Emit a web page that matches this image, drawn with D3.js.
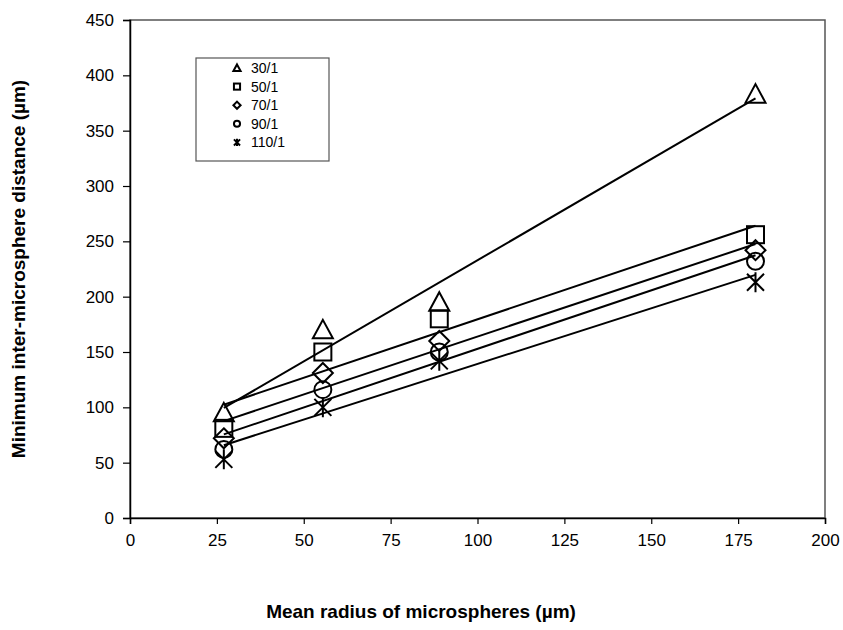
<!DOCTYPE html>
<html>
<head>
<meta charset="utf-8">
<script src="https://cdn.jsdelivr.net/npm/d3@7"></script>
<style>
  body { margin: 0; background: #fff; }
  svg { font-family: "Liberation Sans", Arial, sans-serif; }
  .trend { fill: none; stroke: #000; stroke-width: 2; }
  .mark { fill: none; stroke: #000; stroke-width: 2; }
</style>
</head>
<body>
<svg width="843" height="630"></svg>
<script>
const radius = [27, 55.5, 89, 180];
const ratios = ["30/1", "50/1", "70/1", "90/1", "110/1"];
const dist30 = [95, 170, 195, 383];
const dist50 = [81, 150, 180, 256];
const dist70 = [72, 131, 160, 242];
const dist90 = [62, 116, 150, 232];
const dist110 = [53, 100, 142, 213];
const xTicks = [0, 25, 50, 75, 100, 125, 150, 175, 200];
const yTicks = [0, 50, 100, 150, 200, 250, 300, 350, 400, 450];

const series = [
  { name: ratios[0], shape: "triangle", values: dist30 },
  { name: ratios[1], shape: "square", values: dist50 },
  { name: ratios[2], shape: "diamond", values: dist70 },
  { name: ratios[3], shape: "circle", values: dist90 },
  { name: ratios[4], shape: "star", values: dist110 }
];

const svg = d3.select("svg");
const margin = { top: 20, right: 18, bottom: 112, left: 130 };
const width = 843 - margin.left - margin.right;
const height = 630 - margin.top - margin.bottom;

const x = d3.scaleLinear().domain([0, 200]).range([0, width]);
const y = d3.scaleLinear().domain([0, 450]).range([height, 0]);

const g = svg.append("g").attr("transform", `translate(${margin.left},${margin.top})`);

// plot frame
g.append("rect")
  .attr("width", width).attr("height", height)
  .attr("fill", "none").attr("stroke", "#555").attr("stroke-width", 1.5);

const xAxis = g.append("g")
  .attr("transform", `translate(0,${height})`)
  .call(d3.axisBottom(x).tickValues(xTicks).tickSize(6).tickPadding(10));
const yAxis = g.append("g")
  .call(d3.axisLeft(y).tickValues(yTicks).tickSize(7).tickPadding(9));

[xAxis, yAxis].forEach(a => {
  a.select(".domain").attr("stroke", "#000").attr("stroke-width", 1.5);
  a.selectAll(".tick line").attr("stroke", "#000").attr("stroke-width", 1.2);
  a.selectAll("text").attr("font-size", 17).attr("fill", "#000")
    .attr("font-family", "Liberation Sans, Arial, sans-serif");
});

// linear trendlines (least squares), drawn over the data range
function fit(xs, ys) {
  const mx = d3.mean(xs), my = d3.mean(ys);
  const sxy = d3.sum(xs, (v, i) => (v - mx) * (ys[i] - my));
  const sxx = d3.sum(xs, v => (v - mx) * (v - mx));
  const b = sxy / sxx;
  return { a: my - b * mx, b };
}

series.forEach(s => {
  const f = fit(radius, s.values);
  const x0 = d3.min(radius), x1 = d3.max(radius);
  g.append("line")
    .attr("class", "trend")
    .attr("x1", x(x0)).attr("y1", y(f.a + f.b * x0))
    .attr("x2", x(x1)).attr("y2", y(f.a + f.b * x1));
});

function drawMarker(sel, shape, r) {
  if (shape === "triangle") {
    sel.append("path").attr("class", "mark")
      .attr("d", `M0,${-r}L${r},${r * 0.85}L${-r},${r * 0.85}Z`);
  } else if (shape === "square") {
    sel.append("rect").attr("class", "mark")
      .attr("x", -r * 0.85).attr("y", -r * 0.85)
      .attr("width", r * 1.7).attr("height", r * 1.7);
  } else if (shape === "diamond") {
    sel.append("path").attr("class", "mark")
      .attr("d", `M0,${-r}L${r},0L0,${r}L${-r},0Z`);
  } else if (shape === "circle") {
    sel.append("circle").attr("class", "mark").attr("r", r * 0.85);
  } else {
    const k = r * 0.85;
    sel.append("path").attr("class", "mark")
      .attr("d", `M${-k},${-k}L${k},${k}M${k},${-k}L${-k},${k}M0,${-r}L0,${r}`);
  }
}

series.forEach(s => {
  g.selectAll(null)
    .data(radius.map((r, i) => ({ r, v: s.values[i] })))
    .join("g")
    .attr("transform", d => `translate(${x(d.r)},${y(d.v)})`)
    .each(function () { drawMarker(d3.select(this), s.shape, 10); });
});

// legend
const legend = svg.append("g").attr("transform", "translate(196,58)");
legend.append("rect")
  .attr("width", 133).attr("height", 103)
  .attr("fill", "#fff").attr("stroke", "#555").attr("stroke-width", 1.2);
series.forEach((s, i) => {
  const row = legend.append("g").attr("transform", `translate(0,${10 + i * 18.6})`);
  const m = row.append("g").attr("transform", "translate(41,0)");
  drawMarker(m, s.shape, 3.6);
  m.selectAll(".mark").attr("stroke-width", 2);
  row.append("text")
    .attr("x", 55).attr("dy", "0.35em")
    .attr("font-size", 14)
    .text(s.name);
});

// axis titles
svg.append("text")
  .attr("x", 421).attr("y", 618)
  .attr("text-anchor", "middle")
  .attr("font-size", 19).attr("font-weight", "bold")
  .text("Mean radius of microspheres (µm)");

svg.append("text")
  .attr("transform", `translate(25,${margin.top + height / 2}) rotate(-90)`)
  .attr("text-anchor", "middle")
  .attr("font-size", 19).attr("font-weight", "bold")
  .text("Minimum inter-microsphere distance (µm)");
</script>
</body>
</html>
